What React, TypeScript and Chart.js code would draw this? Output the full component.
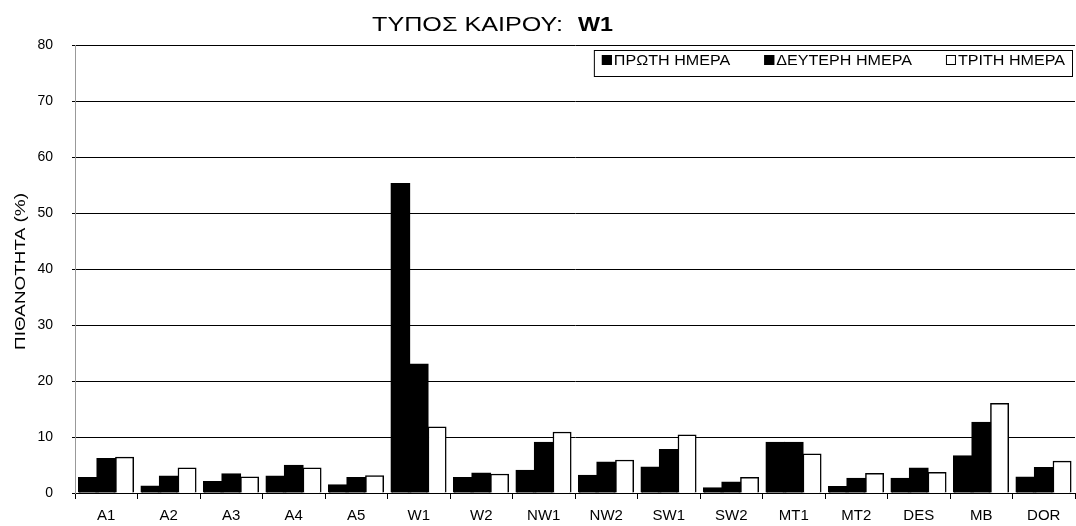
import React, { useEffect, useRef } from "react";
import { Chart, registerables } from "chart.js";

Chart.register(...registerables);

const categories = ["A1", "A2", "A3", "A4", "A5", "W1", "W2", "NW1", "NW2", "SW1", "SW2", "MT1", "MT2", "DES", "MB", "DOR"];
const day1 = [2.7, 1.2, 2.0, 3.0, 1.4, 55.2, 2.7, 4.0, 3.1, 4.6, 0.9, 9.0, 1.1, 2.6, 6.6, 2.8];
const day2 = [6.1, 3.0, 3.4, 4.9, 2.7, 23.0, 3.5, 9.0, 5.5, 7.7, 1.9, 9.0, 2.6, 4.4, 12.6, 4.5];
const day3 = [6.4, 4.5, 2.9, 4.5, 3.1, 11.8, 3.4, 10.9, 5.9, 10.4, 2.8, 7.0, 3.5, 3.7, 16.0, 5.7];
const seriesNames = ["ΠΡΩΤΗ ΗΜΕΡΑ", "ΔΕΥΤΕΡΗ ΗΜΕΡΑ", "ΤΡΙΤΗ ΗΜΕΡΑ"];
const titleText = "ΤΥΠΟΣ ΚΑΙΡΟΥ:";
const titleBold = "W1";
const yTitle = "ΠΙΘΑΝΟΤΗΤΑ (%)";

const FONT = "'Liberation Sans', Arial, Helvetica, sans-serif";

function drawStretched(ctx: CanvasRenderingContext2D, text: string, x: number, y: number, font: string, width: number) {
  ctx.save();
  ctx.font = font;
  ctx.textAlign = "left";
  ctx.textBaseline = "alphabetic";
  const w = ctx.measureText(text).width;
  ctx.translate(x, y);
  ctx.scale(width / w, 1);
  ctx.fillText(text, 0, 0);
  ctx.restore();
}

const decorPlugin = {
  id: "decor",
  afterDraw(chart: any) {
    const ctx: CanvasRenderingContext2D = chart.ctx;
    ctx.save();
    ctx.fillStyle = "#000";
    // Title
    drawStretched(ctx, titleText, 372, 31, `21px ${FONT}`, 191);
    drawStretched(ctx, titleBold, 578, 31, `bold 21px ${FONT}`, 35);

    // Y title (rotated)
    ctx.save();
    ctx.translate(25, 271.5);
    ctx.rotate(-Math.PI / 2);
    ctx.font = `15px ${FONT}`;
    const wy = ctx.measureText(yTitle).width;
    ctx.scale(157 / wy, 1);
    ctx.textAlign = "center";
    ctx.fillText(yTitle, 0, 0);
    ctx.restore();

    // Legend
    const fontL = `14px ${FONT}`;
    const stretch = 1.15;
    ctx.font = fontL;
    const widths = seriesNames.map((s) => ctx.measureText(s).width * stretch);
    const sq = 10;
    const gapSq = 2;
    const itemGap = 34;
    const padR = 8;
    const padL = 8;
    const right = 1073;
    const top = 50;
    const bottom = 77;
    let total = padL + padR;
    widths.forEach((w, i) => {
      total += sq + gapSq + w + (i < widths.length - 1 ? itemGap : 0);
    });
    const left = right - total;
    ctx.fillStyle = "#fff";
    ctx.fillRect(left, top, total, bottom - top);
    ctx.strokeStyle = "#000";
    ctx.lineWidth = 1;
    ctx.strokeRect(left + 0.5, top + 0.5, total - 1, bottom - top - 1);
    let x = left + padL;
    const fills = ["#000", "#000", "#fff"];
    widths.forEach((w, i) => {
      ctx.fillStyle = fills[i];
      ctx.fillRect(x, 55, sq, sq);
      ctx.strokeStyle = "#000";
      ctx.strokeRect(x + 0.5, 55.5, sq - 1, sq - 1);
      ctx.fillStyle = "#000";
      drawStretched(ctx, seriesNames[i], x + sq + gapSq, 65, fontL, w);
      x += sq + gapSq + w + itemGap;
    });
    ctx.restore();
  },
};

export default function App() {
  const ref = useRef<HTMLCanvasElement>(null);
  useEffect(() => {
    if (!ref.current) return;
    const chart = new Chart(ref.current, {
      type: "bar",
      data: {
        labels: categories,
        datasets: [
          { label: seriesNames[0], data: day1, backgroundColor: "#000", borderColor: "#000", borderWidth: 1, inflateAmount: 0.8 },
          { label: seriesNames[1], data: day2, backgroundColor: "#000", borderColor: "#000", borderWidth: 1, inflateAmount: 0.8 },
          { label: seriesNames[2], data: day3, backgroundColor: "#fff", borderColor: "#000", borderWidth: 1.5, inflateAmount: 0.3 },
        ],
      },
      options: {
        responsive: false,
        animation: false,
        layout: { padding: { left: 0, right: 1, top: 45, bottom: 0 } },
        plugins: { legend: { display: false }, tooltip: { enabled: false }, title: { display: false } },
        datasets: { bar: { categoryPercentage: 0.88, barPercentage: 1.0 } },
        scales: {
          x: {
            afterFit: (s: any) => { s.height = 33; },
            grid: { display: true, drawOnChartArea: false, drawTicks: true, tickLength: 6, color: "#000", offset: true },
            border: { display: true, color: "#000", width: 1 },
            ticks: { color: "#000", font: { family: FONT, size: 15 }, padding: 8, maxRotation: 0, autoSkip: false },
          },
          y: {
            min: 0,
            max: 80,
            afterFit: (s: any) => { s.width = 75; },
            grid: { color: "#000", lineWidth: 1, drawTicks: true, tickLength: 3 },
            border: { display: true, color: "#999", width: 1 },
            ticks: { stepSize: 10, color: "#000", font: { family: FONT, size: 14 }, padding: 19 },
          },
        },
      },
      plugins: [decorPlugin],
    } as any);
    return () => chart.destroy();
  }, []);
  return (
    <div style={{ position: "fixed", left: 0, top: 0, width: 1076, height: 526, background: "#fff" }}>
      <canvas ref={ref} width={1076} height={526} style={{ display: "block" }} />
    </div>
  );
}
